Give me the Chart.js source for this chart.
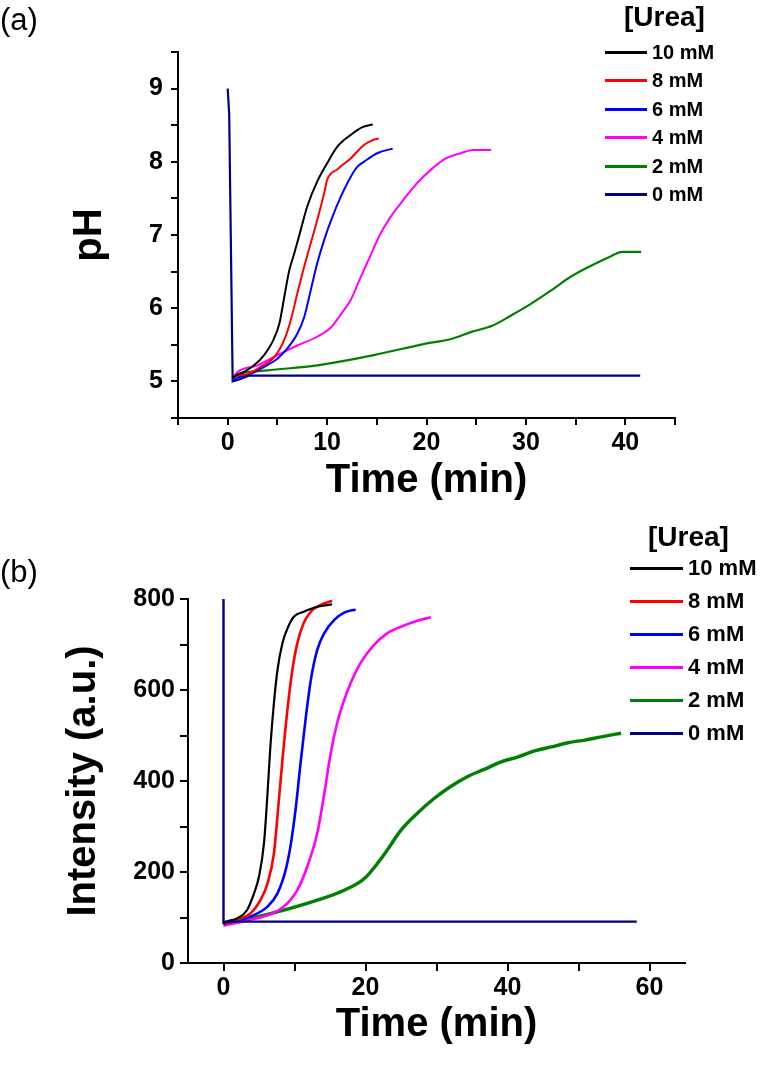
<!DOCTYPE html>
<html><head><meta charset="utf-8">
<script src="https://cdn.jsdelivr.net/npm/chart.js@4.4.1/dist/chart.umd.min.js"></script>
<style>
html,body{margin:0;padding:0;background:#fff;}
body{width:769px;height:1074px;position:relative;overflow:hidden;font-family:"Liberation Sans",Arial,sans-serif;color:#000;}
.panel{position:absolute;left:0;width:769px;}
#wrapA{top:0;height:520px;}
#wrapB{top:520px;height:554px;}
canvas{display:block;position:absolute;left:0;top:0;}
.plabel{position:absolute;left:0;font-size:31px;line-height:34px;height:34px;}
.legtitle{position:absolute;font-weight:bold;line-height:30px;height:30px;white-space:nowrap;}
.row{position:absolute;height:24px;white-space:nowrap;}
.row .sw{position:absolute;top:11px;height:3px;}
.row .tx{position:absolute;top:0;line-height:24px;font-weight:bold;}
</style></head><body>
<div id="wrapA" class="panel"><canvas id="cA" width="769" height="520"></canvas></div>
<div id="wrapB" class="panel"><canvas id="cB" width="769" height="554"></canvas></div>
<div class="plabel" style="top:3px">(a)</div>
<div class="plabel" style="top:555px">(b)</div>
<div class="legtitle" style="left:624px;top:2px;font-size:28px">[Urea]</div>
<div class="legtitle" style="left:648px;top:522px;font-size:28px">[Urea]</div>
<div id="legA"></div>
<div id="legB"></div>
<script>
// ---------- shared series info ----------
const seriesLabels = ['10 mM', '8 mM', '6 mM', '4 mM', '2 mM', '0 mM'];
const seriesColors = ['#000000', '#ff0000', '#0000ff', '#ff00ff', '#008000', '#000080'];

// ---------- panel (a): pH vs time ----------
const phTime10 = [0.5, 0.8, 1.65, 2.65, 3.66, 4.5, 5.2, 5.7, 6.2, 6.7, 7.35, 8.0, 9.0, 10.0, 11.05, 12.4, 13.5, 14.6];
const ph10     = [5.05, 5.08, 5.13, 5.22, 5.36, 5.54, 5.79, 6.16, 6.52, 6.75, 7.07, 7.39, 7.73, 7.98, 8.21, 8.37, 8.47, 8.51];
const phTime8  = [0.6, 1.0, 2.0, 3.3, 4.67, 5.67, 6.35, 7.0, 7.7, 8.36, 9.0, 9.7, 10.0, 11.05, 12.4, 13.7, 14.5, 15.2];
const ph8      = [5.05, 5.08, 5.1, 5.2, 5.33, 5.56, 5.84, 6.2, 6.57, 6.89, 7.2, 7.57, 7.75, 7.9, 8.05, 8.23, 8.29, 8.32];
const phTime6  = [0.5, 0.8, 2.3, 3.66, 5.0, 6.0, 7.0, 7.7, 8.36, 9.0, 9.7, 10.4, 11.4, 12.4, 13.1, 13.7, 15.1, 16.6];
const ph6      = [5.0, 5.04, 5.1, 5.2, 5.31, 5.45, 5.65, 5.88, 6.25, 6.61, 6.93, 7.2, 7.53, 7.8, 7.94, 8.0, 8.12, 8.18];
const phTime4  = [0.7, 1.0, 3.0, 5.0, 7.0, 9.0, 10.4, 11.4, 12.4, 13.3, 14.3, 15.3, 16.3, 17.5, 19.0, 20.5, 22.0, 23.5, 24.7, 26.5];
const ph4      = [5.08, 5.13, 5.22, 5.36, 5.49, 5.61, 5.74, 5.92, 6.12, 6.4, 6.7, 7.0, 7.23, 7.45, 7.7, 7.9, 8.05, 8.12, 8.16, 8.16];
const phTime2  = [0.7, 1.0, 4.0, 9.0, 14.7, 19.7, 22.5, 24.6, 26.6, 28.5, 30.5, 32.5, 34.5, 36.4, 38.4, 39.7, 41.6];
const ph2      = [5.08, 5.1, 5.15, 5.22, 5.36, 5.51, 5.58, 5.68, 5.76, 5.9, 6.06, 6.24, 6.43, 6.57, 6.7, 6.77, 6.77];
const phTime0  = [0, 0.15, 0.5, 1.0, 1.6, 2.2, 41.5];
const ph0      = [9.0, 8.65, 5.0, 5.02, 5.05, 5.08, 5.08];
const phXTicks  = [-5, 0, 5, 10, 15, 20, 25, 30, 35, 40, 45];
const phXLabels = [0, 10, 20, 30, 40];
const phYTicks  = [4.5, 5, 5.5, 6, 6.5, 7, 7.5, 8, 8.5, 9, 9.5];
const phYLabels = [5, 6, 7, 8, 9];

// ---------- panel (b): intensity vs time ----------
const inTime10 = [0, 0.5, 1.9, 3.3, 4.3, 5.0, 5.7, 6.2, 6.6, 7.1, 7.6, 8.3, 9.0, 9.9, 11.3, 13.2, 15.3];
const in10     = [86, 91, 98, 116, 153, 190, 263, 373, 475, 571, 644, 703, 735, 761, 772, 783, 788];
const inTime8  = [0, 1.9, 3.8, 5.2, 6.2, 7.1, 7.8, 8.3, 9.0, 9.7, 10.4, 11.3, 12.3, 13.7, 15.3];
const in8      = [86, 95, 109, 138, 175, 241, 358, 446, 556, 644, 703, 747, 772, 787, 796];
const inTime6  = [0, 1.9, 3.8, 6.2, 7.6, 8.75, 9.5, 10.2, 10.9, 11.6, 12.3, 13.2, 14.2, 15.6, 17.0, 18.6];
const in6      = [86, 93, 102, 124, 153, 204, 263, 344, 446, 541, 622, 688, 725, 754, 770, 777];
const inTime4  = [0, 3.8, 6.2, 8.5, 10.4, 11.8, 13.2, 14.2, 15.1, 16.0, 17.0, 17.9, 19.3, 21.2, 23.1, 25.0, 27.3, 29.2];
const in4      = [82, 95, 105, 124, 160, 212, 285, 373, 461, 527, 578, 615, 659, 699, 725, 739, 752, 760];
const inTime2  = [0, 3.8, 8.5, 13.2, 17.0, 19.8, 22.6, 25.0, 27.3, 29.7, 32.0, 34.4, 36.8, 39.1, 41.5, 43.8, 46.2, 48.5, 50.9, 53.2, 56.0];
const in2      = [87, 98, 116, 138, 160, 185, 238, 292, 329, 362, 388, 410, 426, 442, 453, 466, 475, 484, 490, 497, 505];
const inTime0  = [0, 0, 0.3, 58.2];
const in0      = [800, 89, 91, 91];
const inXTicks  = [0, 10, 20, 30, 40, 50, 60];
const inXLabels = [0, 20, 40, 60];
const inYTicks  = [0, 100, 200, 300, 400, 500, 600, 700, 800];
const inYLabels = [0, 200, 400, 600, 800];

// ---------- helpers ----------
const FONT = 'Liberation Sans';
function pts(t, v) { return t.map((x, i) => ({ x: x, y: v[i] })); }
function makeDatasets(pairs, widths) {
  return pairs.map((p, i) => ({
    label: seriesLabels[i],
    data: pts(p[0], p[1]),
    borderColor: seriesColors[i],
    backgroundColor: seriesColors[i],
    borderWidth: widths[i],
    pointRadius: 0,
    showLine: true,
    fill: false,
    tension: 0,
    cubicInterpolationMode: i === 5 ? 'default' : 'monotone',
    order: i === 5 ? -1 : i
  }));
}
function axis(min, max, tickVals, labelVals, o) {
  return {
    type: 'linear', min: min, max: max,
    afterBuildTicks: s => { s.ticks = tickVals.map(v => ({ value: v })); },
    afterFit: s => { if (s.isHorizontal()) s.height = o.size; else s.width = o.size; },
    border: { display: true, color: '#000', width: 2 },
    grid: { display: true, drawOnChartArea: false, drawTicks: true, tickLength: o.tickLength, color: '#000', lineWidth: 2 },
    ticks: {
      autoSkip: false, maxRotation: 0, minRotation: 0, padding: o.pad, color: '#000',
      font: { family: FONT, weight: 'bold', size: o.fontSize },
      callback: v => labelVals.includes(v) ? String(v) : ''
    },
    title: { display: true, text: o.title, color: '#000',
      font: { family: FONT, weight: 'bold', size: 40, lineHeight: 1.2 }, padding: o.titlePad }
  };
}
function makeChart(id, datasets, xAxis, yAxis, pad) {
  return new Chart(document.getElementById(id), {
    type: 'scatter',
    data: { datasets: datasets },
    options: {
      responsive: false, maintainAspectRatio: false, animation: false, devicePixelRatio: 1,
      layout: { padding: pad },
      plugins: { legend: { display: false }, tooltip: { enabled: false } },
      scales: { x: xAxis, y: yAxis }
    }
  });
}
function buildLegend(id, chart, o) {
  const box = document.getElementById(id);
  chart.data.datasets.forEach((ds, i) => {
    const row = document.createElement('div');
    row.className = 'row';
    row.style.left = o.left + 'px';
    row.style.top = (o.y0 + o.step * i - 12) + 'px';
    const sw = document.createElement('span');
    sw.className = 'sw';
    sw.style.left = '0px';
    sw.style.width = o.swW + 'px';
    sw.style.background = ds.borderColor;
    const tx = document.createElement('span');
    tx.className = 'tx';
    tx.style.left = o.textOff + 'px';
    tx.style.fontSize = o.fontSize + 'px';
    tx.textContent = ds.label;
    row.appendChild(sw); row.appendChild(tx);
    box.appendChild(row);
  });
}

// ---------- panel (a) ----------
const chartA = makeChart('cA',
  makeDatasets([[phTime10, ph10], [phTime8, ph8], [phTime6, ph6], [phTime4, ph4], [phTime2, ph2], [phTime0, ph0]], [2, 2, 2, 2, 2.2, 2.2]),
  axis(-5, 45, phXTicks, phXLabels, { size: 102, tickLength: 7, pad: 3, fontSize: 25, title: 'Time (min)', titlePad: { top: 0, bottom: 15 } }),
  axis(4.5, 9.5, phYTicks, phYLabels, { size: 178, tickLength: 7, pad: 8, fontSize: 25, title: 'pH', titlePad: { top: 66, bottom: 0 } }),
  { left: 0, right: 94, top: 52, bottom: 0 });

// ---------- panel (b) ----------
const chartB = makeChart('cB',
  makeDatasets([[inTime10, in10], [inTime8, in8], [inTime6, in6], [inTime4, in4], [inTime2, in2], [inTime0, in0]], [2.2, 2.6, 2.6, 2.6, 3.4, 2.4]),
  axis(-5, 65, inXTicks, inXLabels, { size: 111, tickLength: 8, pad: 2, fontSize: 25, title: 'Time (min)', titlePad: { top: 0, bottom: 25 } }),
  axis(0, 800, inYTicks, inYLabels, { size: 188, tickLength: 8, pad: 5, fontSize: 25, title: 'Intensity (a.u.)', titlePad: { top: 60, bottom: 0 } }),
  { left: 0, right: 84, top: 79, bottom: 0 });

buildLegend('legA', chartA, { left: 605, y0: 52, step: 28.4, swW: 42, textOff: 47, fontSize: 20 });
buildLegend('legB', chartB, { left: 630, y0: 568, step: 33, swW: 53, textOff: 58, fontSize: 22 });
</script>
</body></html>
